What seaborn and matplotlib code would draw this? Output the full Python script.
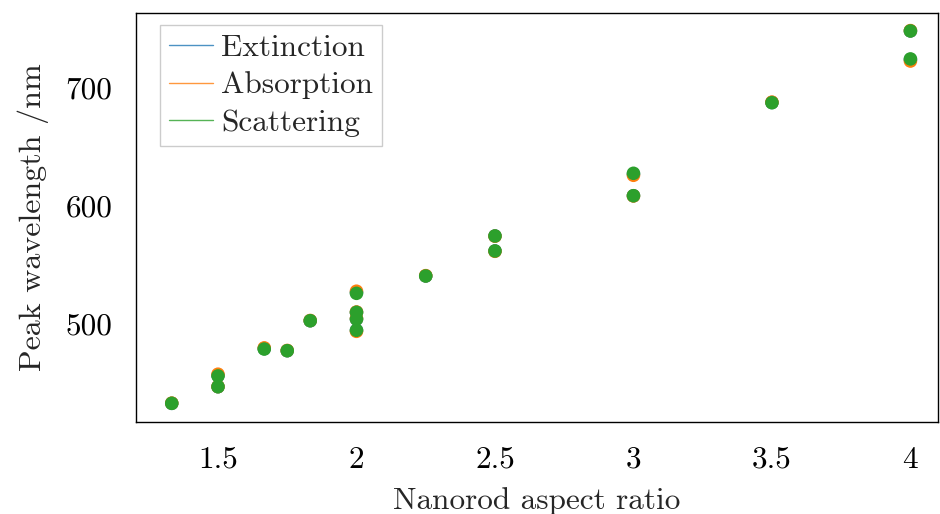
import matplotlib
matplotlib.use("Agg")
import matplotlib.pyplot as plt
from matplotlib.lines import Line2D
import seaborn as sns
import pandas as pd

aspect_ratio = [1.333, 1.5, 1.5, 1.667, 1.75, 1.833, 2.0, 2.0, 2.0, 2.0,
                2.25, 2.5, 2.5, 3.0, 3.0, 3.5, 4.0, 4.0]
extinction = [432.8, 456.5, 446.9, 479.2, 477.4, 502.8, 526.8, 509.9, 504.2, 494.6,
              540.7, 574.6, 561.9, 627.0, 608.7, 687.7, 748.3, 724.0]
absorption = [433.0, 457.5, 447.0, 479.8, 477.6, 503.0, 527.8, 510.2, 504.6, 493.8,
              541.0, 574.4, 561.6, 626.0, 608.5, 688.0, 748.6, 722.8]
scattering = [432.8, 456.0, 446.9, 478.8, 477.4, 502.8, 526.0, 509.9, 504.2, 494.7,
              540.7, 574.6, 561.9, 627.7, 608.7, 687.5, 748.3, 724.6]
series_names = ["Extinction", "Absorption", "Scattering"]
colors = ["#1f77b4", "#ff7f0e", "#2ca02c"]
x_ticks = [1.5, 2, 2.5, 3, 3.5, 4]
x_tick_labels = ["1.5", "2", "2.5", "3", "3.5", "4"]
y_ticks = [500, 600, 700]
y_tick_labels = ["500", "600", "700"]

df = pd.concat([
    pd.DataFrame({"ratio": aspect_ratio, "peak": vals, "series": name})
    for name, vals in zip(series_names, [extinction, absorption, scattering])
], ignore_index=True)

sns.set_style("white")
plt.rcParams["font.family"] = ["cmr10", "DejaVu Serif"]
plt.rcParams["mathtext.fontset"] = "cm"
plt.rcParams["axes.formatter.use_mathtext"] = True

fig = plt.figure(figsize=(9.4, 5.14), dpi=100)
ax = fig.add_axes([0.1447, 0.179, 0.998 - 0.1447, 0.9747 - 0.179])

sns.scatterplot(data=df, x="ratio", y="peak", hue="series", hue_order=series_names,
                palette=colors, s=95, edgecolor="none", linewidth=0, legend=False, ax=ax)

ax.set_xlim(1.204, 4.10)
ax.set_ylim(417, 763.5)
ax.set_xticks(x_ticks)
ax.set_xticklabels(x_tick_labels)
ax.set_yticks(y_ticks)
ax.set_yticklabels(y_tick_labels)
ax.tick_params(axis="both", direction="out", length=10, width=1, color="#999999",
               labelsize=22.5, labelcolor="black", pad=7)
for sp in ax.spines.values():
    sp.set_visible(True)
    sp.set_color("black")
    sp.set_linewidth(1.0)

ax.set_xlabel("Nanorod aspect ratio", fontsize=22.5, labelpad=10)
ax.set_ylabel("Peak wavelength /nm", fontsize=23, labelpad=12)

handles = [Line2D([0], [0], color=c, lw=1.0, alpha=0.8) for c in colors]
leg = ax.legend(handles, series_names, loc="upper left", fontsize=22.5, frameon=True,
                fancybox=False, framealpha=1, edgecolor="#cccccc",
                handlelength=1.4, handletextpad=0.25, borderpad=0.3,
                labelspacing=0.3, borderaxespad=0, bbox_to_anchor=(0.03, 0.971))
leg.get_frame().set_linewidth(1.0)

fig.savefig("out.png", dpi=100)
